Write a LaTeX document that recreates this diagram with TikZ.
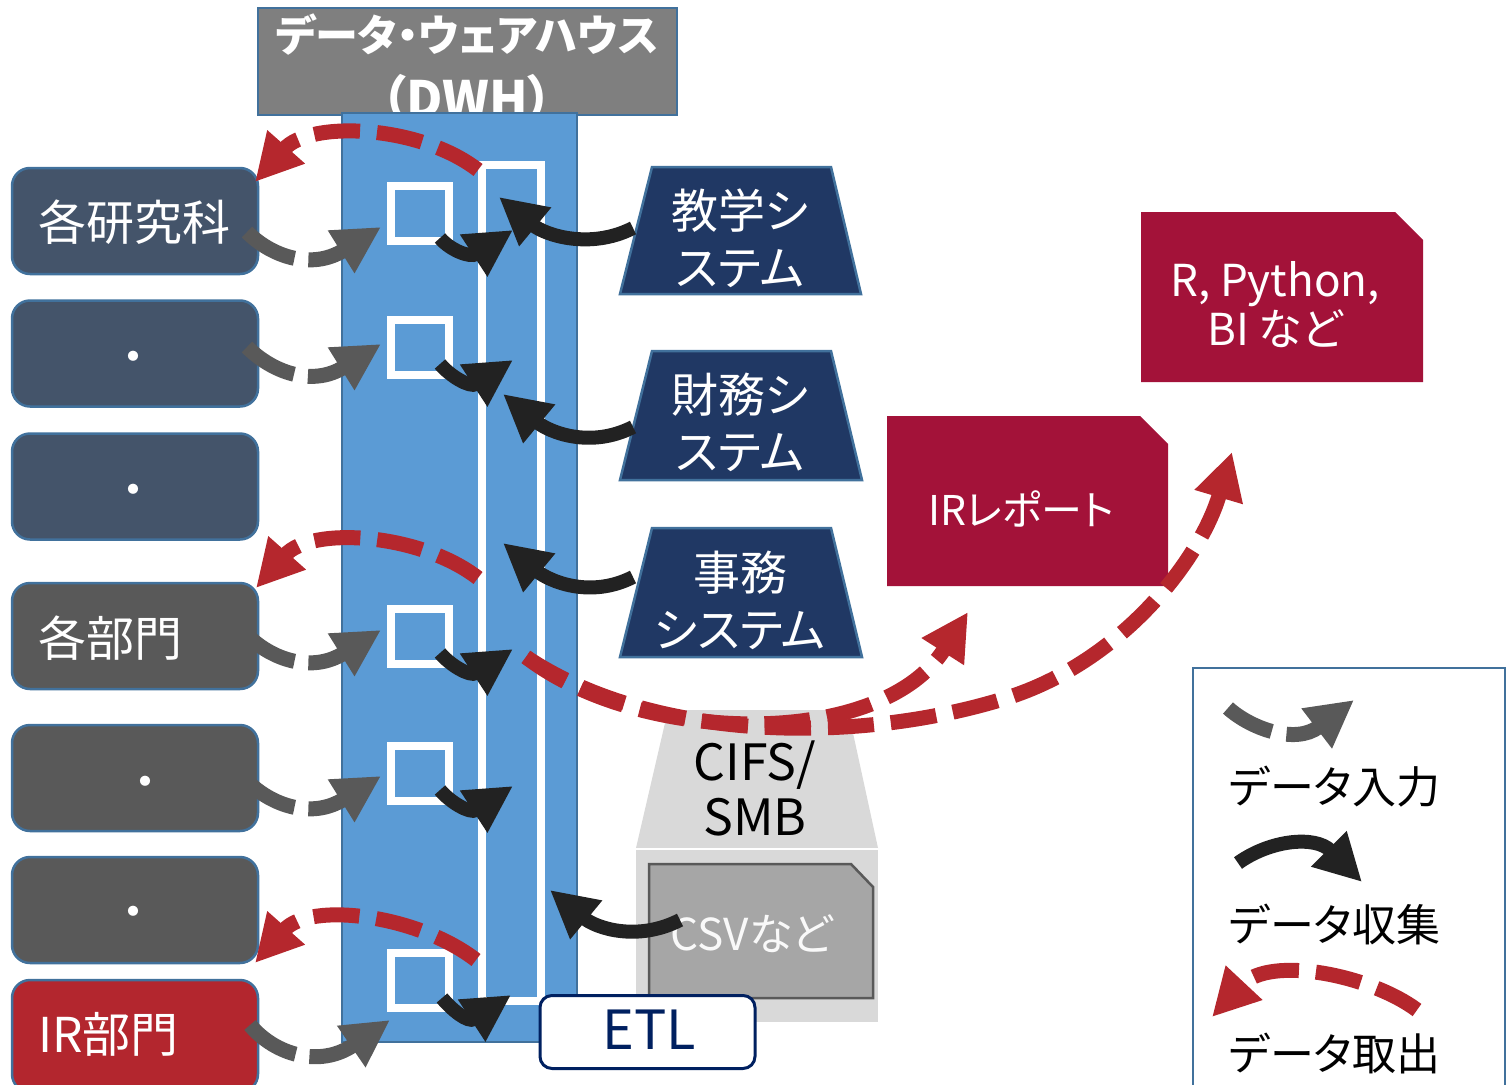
\documentclass[tikz,border=0pt]{standalone}
\usepackage{fontspec}
\setmainfont{Noto Sans CJK JP}[RawFeature={+palt}]
\usetikzlibrary{arrows.meta}
\definecolor{cSlate}{HTML}{44546A}
\definecolor{cDGray}{HTML}{595959}
\definecolor{cIR}{HTML}{B3262E}
\definecolor{cNavy}{HTML}{203864}
\definecolor{cEdge}{HTML}{41719C}
\definecolor{cBlue}{HTML}{5B9BD5}
\definecolor{cHead}{HTML}{7F7F7F}
\definecolor{cCrim}{HTML}{A31239}
\definecolor{cRed}{HTML}{B5272D}
\definecolor{cArrGray}{HTML}{595959}
\definecolor{cBlack}{HTML}{222222}
\definecolor{cLight}{HTML}{D9D9D9}
\definecolor{cMid}{HTML}{A6A6A6}
\definecolor{cETL}{HTML}{002060}
\begin{document}
\begin{tikzpicture}[x=1pt,y=-1pt,
  box/.style={draw=cEdge, line width=2.5pt, rounded corners=18pt, minimum width=246pt, minimum height=106pt, inner sep=0pt},
  sq/.style={draw=white, line width=8pt, minimum width=58pt, minimum height=55pt, inner sep=0pt},
  txt/.style={inner sep=0pt, text=white, font=\fontsize{48}{57}\selectfont},
  ttxt/.style={inner sep=0pt, text=white, align=center, font=\fontsize{47}{57}\selectfont},
  ltxt/.style={inner sep=0pt, text=black, anchor=west, font=\fontsize{44}{54}\selectfont},
  trap/.style={fill=cNavy, draw=cEdge, line width=2.5pt},
  inarrow/.style={draw=cArrGray, line width=15pt, dash pattern=on 55pt off 14pt, -{Triangle[length=47pt,width=47pt]}},
  colarrow/.style={draw=cBlack, line width=14pt, -{Triangle[length=47pt,width=47pt]}},
  outarrow/.style={draw=cRed, line width=15pt, dash pattern=on 46pt off 17pt, -{Triangle[length=47pt,width=47pt]}}]
\useasboundingbox (0,0) rectangle (1506,1084);

% DWH header
\node[draw=cEdge, fill=cHead, line width=2.5pt, minimum width=419pt, minimum height=107pt, inner sep=0pt] (dwhbox) at (467.5,61.5) {};
\node[inner sep=0pt, text=white, font=\bfseries\fontsize{43}{50}\selectfont] (dwhtxt) at (467,35) {データ・ウェアハウス};
\node[inner sep=0pt, text=white, font=\bfseries\fontsize{50}{56}\selectfont] (dwhtxt2) at (467,98) {（DWH）};

% DWH column
\node[fill=cBlue, draw=cEdge, line width=2pt, minimum width=235pt, minimum height=929pt, inner sep=0pt] (dwh) at (459.5,577.5) {};
\node[draw=white, line width=8pt, minimum width=59pt, minimum height=836pt, inner sep=0pt] (bar) at (511.5,583) {};
\node[sq] (s1) at (420,213.5) {};
\node[sq] (s2) at (420,347) {};
\node[sq] (s3) at (420,636.5) {};
\node[sq] (s4) at (420,773) {};
\node[sq] (s5) at (420,980) {};

% left boxes
\node[box, fill=cSlate] (k1) at (135,221) {};
\node[box, fill=cSlate] (k2) at (135,353.5) {};
\node[box, fill=cSlate] (k3) at (135,486.5) {};
\node[box, fill=cDGray] (g1) at (135,636) {};
\node[box, fill=cDGray] (g2) at (135,778) {};
\node[box, fill=cDGray] (g3) at (135,910) {};
\node[box, fill=cIR, minimum height=112pt] (ir) at (135,1036) {};
\node[txt, anchor=west] (k1t) at (38,222) {各研究科};
\node[txt] (k2t) at (133,363) {・};
\node[txt] (k3t) at (133,496) {・};
\node[txt, anchor=west] (g1t) at (38,638) {各部門};
\node[txt] (g2t) at (145,788) {・};
\node[txt] (g3t) at (133,918) {・};
\node[txt, anchor=west] (irt) at (38,1034) {IR部門};

% source systems
\path[trap] (652,167) -- (831,167) -- (861,294) -- (620,294) -- cycle;
\path[trap] (652,351) -- (831,351) -- (862,480) -- (620,480) -- cycle;
\path[trap] (652,528) -- (831,528) -- (862,657) -- (620,657) -- cycle;
\node[ttxt] (sys1) at (740,238) {教学シ\\ステム};
\node[ttxt] (sys2) at (740,422) {財務シ\\ステム};
\node[ttxt] (sys3) at (740,600) {事務\\システム};

% outputs
\fill[cCrim] (887,416) -- (1140,416) -- (1168,444) -- (1168,586) -- (887,586) -- cycle;
\fill[cCrim] (1141,212) -- (1395,212) -- (1423,240) -- (1423,382) -- (1141,382) -- cycle;
\node[inner sep=0pt, text=white, font=\fontsize{41}{49}\selectfont] (irrep) at (1021,509) {IRレポート};
\node[inner sep=0pt, text=white, align=center, font=\fontsize{44}{49}\selectfont] (tools) at (1275,305) {R, Python,\\BI など};

% CIFS/SMB
\fill[cLight] (668,710) -- (848,710) -- (878,848) -- (636,848) -- cycle;
\fill[cLight] (636,849) rectangle (878,1022);
\draw[white, line width=2pt] (636,848.5) -- (878,848.5);
\node[inner sep=0pt, text=black, align=center, font=\fontsize{50}{55}\selectfont] (cifs) at (755,788) {CIFS/\\SMB};
\draw[fill=cMid, draw=cDGray, line width=2.5pt] (649,864) -- (851,864) -- (873,887) -- (873,998) -- (649,998) -- cycle;
\node[inner sep=0pt, text=white!95!gray, font=\fontsize{44}{50}\selectfont] (csv) at (752,934) {CSVなど};

% ETL
\node[draw=cETL, fill=white, line width=3pt, rounded corners=12pt, minimum width=215pt, minimum height=73pt, inner sep=0pt] (etlbox) at (647.5,1032) {};
\node[inner sep=0pt, text=cETL, font=\fontsize{54}{60}\selectfont] (etl) at (649,1030) {ETL};

% legend
\draw[cEdge, line width=2pt, fill=white] (1193,668) rectangle (1505,1095);
\node[ltxt] (lg1) at (1229,787) {データ入力};
\node[ltxt] (lg2) at (1229,924) {データ収集};
\node[ltxt] (lg3) at (1229,1053) {データ取出};

% ---- arrow end points ----
\coordinate (gi1s) at (247,232); \coordinate (gi1t) at (381,227);
\coordinate (gi2s) at (247,347); \coordinate (gi2t) at (381,344);
\coordinate (gi3s) at (247,635); \coordinate (gi3t) at (381,630);
\coordinate (gi4s) at (247,781); \coordinate (gi4t) at (381,776);
\coordinate (gi5s) at (250,1025); \coordinate (gi5t) at (390,1020);
\coordinate (bc1s) at (440,238); \coordinate (bc1t) at (513,230);
\coordinate (bc2s) at (440,364); \coordinate (bc2t) at (513,360);
\coordinate (bc3s) at (440,653); \coordinate (bc3t) at (513,649);
\coordinate (bc4s) at (440,790); \coordinate (bc4t) at (513,786);
\coordinate (bc5s) at (442,998); \coordinate (bc5t) at (511,995);
\coordinate (tc1s) at (633,228); \coordinate (tc1t) at (499,197);
\coordinate (tc2s) at (633,427); \coordinate (tc2t) at (503,394);
\coordinate (tc3s) at (633,577); \coordinate (tc3t) at (503,543);
\coordinate (tc4s) at (680,920); \coordinate (tc4t) at (550,890);
\coordinate (re1s) at (478,170); \coordinate (re1t) at (255,182);
\coordinate (re2s) at (478,578); \coordinate (re2t) at (256,588);
\coordinate (re3s) at (476,960); \coordinate (re3t) at (255,963);
\coordinate (ros) at (526,657); \coordinate (ro1t) at (968,612);
\coordinate (ro2m) at (1000,700); \coordinate (ro2t) at (1232,452);
\coordinate (lg1s) at (1228,708); \coordinate (lg1t) at (1354,700);
\coordinate (lg2s) at (1238,863); \coordinate (lg2t) at (1362,882);
\coordinate (lg3s) at (1417,1010); \coordinate (lg3t) at (1212,1017);

% data input (gray dashed)
\foreach \n in {1,2,3,4}{
  \draw[inarrow] (gi\n s) .. controls +(25,25) and +(-69,43) .. (gi\n t);
}
\draw[inarrow] (gi5s) .. controls +(25,30) and +(-70,48) .. (gi5t);

% data collection (black)
\foreach \n in {1,2,3,4,5}{
  \draw[colarrow] (bc\n s) .. controls +(10,12) and +(-43,28) .. (bc\n t);
}
\foreach \n in {1,2,3,4}{
  \draw[colarrow] (tc\n s) .. controls +(-43,22) and +(46,38) .. (tc\n t);
}

% data extraction (red dashed)
\foreach \n in {1,2,3}{
  \draw[outarrow] (re\n s) .. controls +(-58,-45) and +(55,-62) .. (re\n t);
}
\draw[outarrow] (ros) .. controls (640,745) and (880,750) .. (ro1t);
\draw[outarrow] (ros) .. controls (650,740) and (850,745) .. (ro2m) .. controls (1120,665) and (1200,560) .. (ro2t);

% legend arrows
\draw[inarrow, dash pattern=on 50pt off 15pt] (lg1s) .. controls +(22,20) and +(-59,45) .. (lg1t);
\draw[colarrow] (lg2s) .. controls +(32,-23) and +(-47,-47) .. (lg2t);
\draw[outarrow] (lg3s) .. controls +(-47,-35) and +(58,-62) .. (lg3t);
\end{tikzpicture}
\end{document}
